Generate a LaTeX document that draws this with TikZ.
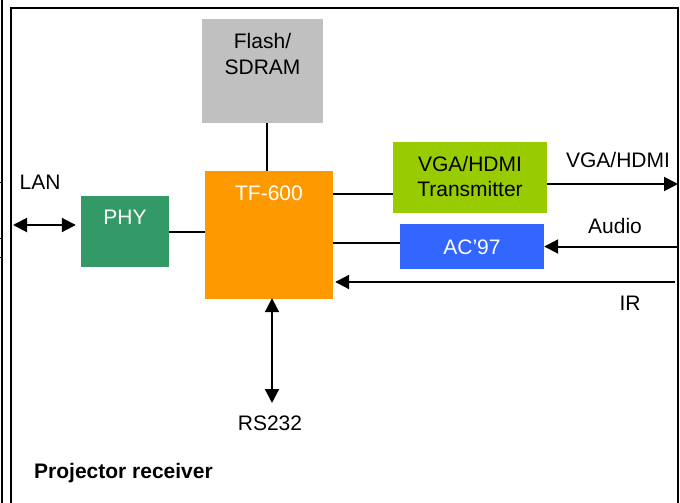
\documentclass[tikz,border=0pt]{standalone}
\usepackage{fontspec}
\setmainfont{Liberation Sans}
\usetikzlibrary{arrows.meta}
\begin{document}
\begin{tikzpicture}[x=1pt,y=-1pt,
  blk/.style={draw=none,rectangle,inner sep=0pt},
  txt/.style={inner sep=0pt,font=\fontsize{21}{25.5}\selectfont,align=center},
  wire/.style={line width=2pt},
  arr/.style={line width=2pt,-{Triangle[length=14pt,width=14pt]}},
  darr/.style={line width=2pt,{Triangle[length=14pt,width=14pt]}-{Triangle[length=14pt,width=14pt]}},
  frame/.style={line width=1.5pt}]
\useasboundingbox (0,0) rectangle (680,503);
% frame
\draw[frame] (2,0) -- (2,503);
\draw[frame] (11,503) -- (11,8) -- (678,8) -- (678,503);
\draw[line width=1pt] (0,182) -- (3,182);
\draw[line width=1pt] (0,238) -- (3,238);
\draw[line width=1pt] (0,257) -- (3,257);
% blocks
\node[blk,fill={rgb,255:red,192;green,192;blue,192},minimum width=121pt,minimum height=104pt] (flash) at (262.5,71) {};
\node[txt] at (262.5,54) {Flash/\\SDRAM};
\node[blk,fill={rgb,255:red,255;green,153;blue,0},minimum width=128pt,minimum height=128pt] (tf) at (269,235) {};
\node[txt,white] at (269,193) {TF-600};
\node[blk,fill={rgb,255:red,51;green,153;blue,102},minimum width=88pt,minimum height=71pt] (phy) at (125,231.5) {};
\node[txt,white] at (125,217) {PHY};
\node[blk,fill={rgb,255:red,153;green,204;blue,0},minimum width=154pt,minimum height=71pt] (vga) at (470,177.5) {};
\node[txt] at (470,176.5) {VGA/HDMI\\Transmitter};
\node[blk,fill={rgb,255:red,51;green,102;blue,255},minimum width=144pt,minimum height=45pt] (ac) at (472,246.5) {};
\node[txt,white] at (472,247) {AC’97};
% helper coordinates
\coordinate (mx) at (267,0);
\coordinate (yv) at (0,194);
\coordinate (ya) at (0,243);
\coordinate (vout) at (678,184);
\coordinate (ain) at (678,246.5);
\coordinate (irin) at (675,282);
\coordinate (lan) at (13,225);
\coordinate (rs) at (272,403);
% connectors
\draw[wire] (flash.south -| mx) -- (tf.north -| mx);
\draw[wire] (phy.east) -- (tf.west |- phy.east);
\draw[wire] (tf.east |- yv) -- (vga.west |- yv);
\draw[wire] (tf.east |- ya) -- (ac.west |- ya);
\draw[arr] (vga.east |- vout) -- (vout);
\draw[arr] (ain) -- (ac.east);
\draw[arr] (irin) -- ([xshift=2pt]tf.east |- irin);
\draw[darr] (lan) -- ([xshift=-5pt]phy.west |- lan);
\draw[darr] ([yshift=1pt]tf.south -| rs) -- (rs);
% labels
\node[txt] at (40,182) {LAN};
\node[txt] at (618,160) {VGA/HDMI};
\node[txt] at (615,226) {Audio};
\node[txt] at (630,303) {IR};
\node[txt] at (270,423) {RS232};
\node[txt,font=\fontsize{21}{25.5}\selectfont\bfseries,anchor=west] at (34,473) {Projector receiver};
\end{tikzpicture}
\end{document}
